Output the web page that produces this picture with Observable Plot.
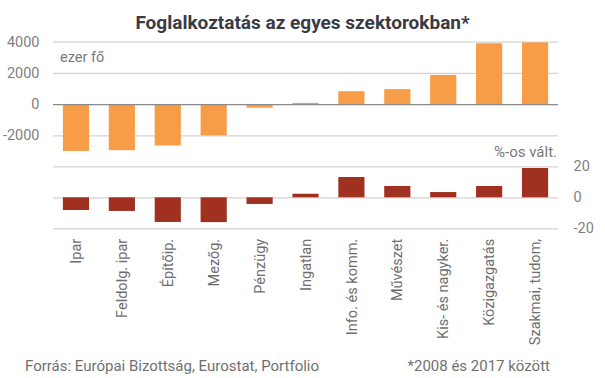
<!DOCTYPE html>
<html><head><meta charset="utf-8">
<script src="https://cdn.jsdelivr.net/npm/d3@7"></script>
<script src="https://cdn.jsdelivr.net/npm/@observablehq/plot@0.6"></script>
<style>
body{margin:0;background:#fff;font-family:Roboto,sans-serif;}
#wrap{position:relative;width:605px;height:378px;overflow:hidden;background:#fff;}
.abs{position:absolute;white-space:nowrap;line-height:1;}
#wrap svg{position:absolute;left:0;background:transparent;}
</style></head><body>
<div id="wrap">
  <div class="abs" style="left:0;width:605px;top:13px;text-align:center;font-weight:bold;font-size:19px;color:#3a3a44">Foglalkoztatás az egyes szektorokban*</div>
  <div class="abs" style="left:60px;top:51px;font-size:14.5px;color:#7a7a7a">ezer fő</div>
  <div class="abs" style="right:48px;top:145px;font-size:15px;color:#7a7a7a">%-os vált.</div>
  <div class="abs" style="left:25px;top:359px;font-size:15px;color:#707070">Forrás: Európai Bizottság, Eurostat, Portfolio</div>
  <div class="abs" style="right:55px;top:359px;font-size:15px;color:#707070">*2008 és 2017 között</div>
</div>
<script>
const sectors = ["Ipar","Feldolg. ipar","Építőip.","Mezőg.","Pénzügy","Ingatlan","Info. és komm.","Művészet","Kis- és nagyker.","Közigazgatás","Szakmai, tudom,"];
const changeThousands = [-3000,-2950,-2650,-2000,-230,80,830,960,1870,3900,3960];
const changePct = [-8.2,-8.8,-15.9,-16,-4.3,2.3,13.1,7.3,3.4,7.3,18.9];
const leftTicks = [-2000,0,2000,4000];
const rightTicks = [-20,0,20];

const topData = sectors.map((s,i)=>({sector:s, value:changeThousands[i]}));
const botData = sectors.map((s,i)=>({sector:s, value:changePct[i]}));
const wrap = document.getElementById("wrap");
const style = {fontFamily:"Roboto, sans-serif", fontSize:"14.5px", color:"#7f7f7f", background:"transparent", overflow:"visible"};

const p1 = Plot.plot({
  width:605, height:153,
  marginLeft:53, marginRight:47, marginTop:41.7, marginBottom:0.5,
  style,
  x:{domain:sectors, paddingInner:0.43, paddingOuter:0.215, round:false, axis:null},
  y:{domain:[-3100,4000], axis:null},
  marks:[
    Plot.ruleY(leftTicks.filter(d=>d!==0), {stroke:"#d3d3d3", strokeWidth:1.2}),
    Plot.barY(topData, {x:"sector", y:"value", fill:"#f79d47"}),
    Plot.ruleY([0], {stroke:"#8a8a8a", strokeWidth:1.2}),
    Plot.axisY({ticks:leftTicks, tickSize:0, tickPadding:14, label:null, tickFormat:d=>String(d)})
  ]
});
p1.style.top = "0px";
wrap.appendChild(p1);

const p2 = Plot.plot({
  width:605, height:206,
  marginLeft:53, marginRight:47, marginTop:14.3, marginBottom:129.7,
  style,
  x:{domain:sectors, paddingInner:0.43, paddingOuter:0.215, round:false},
  y:{domain:[-20,20]},
  marks:[
    Plot.ruleY(rightTicks, {stroke:"#d3d3d3", strokeWidth:1.2}),
    Plot.barY(botData, {x:"sector", y:"value", fill:"#a03121"}),
    Plot.axisY({anchor:"right", ticks:rightTicks, tickSize:0, tickPadding:15, label:null, tickFormat:d=>String(d)}),
    Plot.axisX({tickRotate:-90, tickSize:0, tickPadding:10, label:null, fill:"#6e6e6e"})
  ]
});
p2.style.top = "152px";
wrap.appendChild(p2);
</script>
</body></html>
